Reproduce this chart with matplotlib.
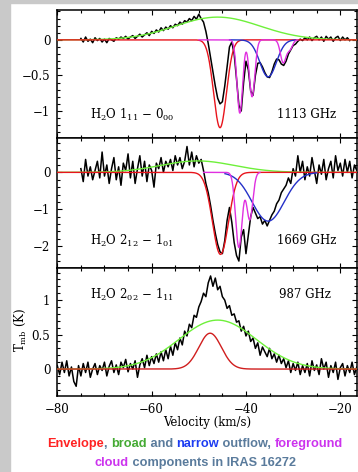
import numpy as np
import matplotlib
matplotlib.use("Agg")
import matplotlib.pyplot as plt
from matplotlib.patches import Rectangle
from matplotlib.ticker import MultipleLocator

plt.rcParams['font.family'] = 'DejaVu Serif'
plt.rcParams['mathtext.fontset'] = 'dejavuserif'

# spectra, 0.5 km/s channels starting at v0
v0_1113 = -75.0
t_1113 = [0.02, -0.03, 0.04, -0.02, 0.01, -0.04, 0.03, -0.01, 0.02, -0.03,
          0.01, -0.04, 0.02, 0.0, -0.02, 0.03, 0.01, 0.04, 0.02, 0.05,
          0.01, 0.04, 0.06, 0.02, 0.05, 0.08, 0.04, 0.07, 0.10, 0.06,
          0.12, 0.09, 0.14, 0.11, 0.17, 0.13, 0.18, 0.15, 0.20, 0.17,
          0.22, 0.20, 0.25, 0.22, 0.27, 0.25, 0.30, 0.27, 0.33, 0.29,
          0.36, 0.30, 0.25, 0.12, -0.05, -0.25, -0.45, -0.65, -0.82, -0.90,
          -0.87, -0.65, -0.38, -0.10, -0.03, -0.20, -0.55, -0.92, -1.00, -0.60,
          -0.30, -0.42, -0.72, -0.78, -0.50, -0.33, -0.32, -0.38, -0.46, -0.52,
          -0.53, -0.45, -0.34, -0.27, -0.28, -0.34, -0.36, -0.30, -0.20, -0.14,
          -0.08, -0.06, -0.02, 0.01, -0.01, 0.03, 0.0, 0.04, -0.01, 0.03,
          0.05, 0.0, 0.04, -0.02, 0.05, 0.01, 0.04, -0.02, 0.03, 0.05,
          -0.01, 0.04, 0.0, 0.03, -0.01]

v0_1669 = -75.0
t_1669 = [0.10, -0.25, 0.35, -0.10, 0.15, -0.20, 0.05, 0.30, -0.15, 0.55,
          -0.10, 0.20, -0.30, 0.10, 0.40, -0.20, 0.15, -0.35, 0.25, 0.05,
          0.50, -0.15, 0.30, -0.30, 0.10, 0.45, -0.10, 0.30, -0.25, 0.20,
          0.05, -0.40, 0.25, 0.10, 0.40, 0.0, 0.30, 0.15, 0.35, 0.05,
          0.45, 0.20, 0.40, 0.10, 0.30, 0.70, 0.20, 0.55, 0.15, 0.45,
          0.25, 0.35, 0.05, -0.30, -0.55, -0.90, -1.30, -1.65, -1.95, -2.15,
          -2.20, -1.85, -1.30, -0.95, -1.35, -1.90, -2.25, -2.40, -1.75, -1.55,
          -2.20, -1.70, -1.20, -0.95, -1.10, -1.25, -1.20, -1.40, -1.30, -1.45,
          -1.30, -1.15, -1.05, -0.85, -0.75, -0.55, -0.45, -0.35, -0.15, -0.30,
          0.10, -0.10, 0.45, 0.0, 0.30, -0.20, 0.15, -0.10, 0.40, 0.05,
          -0.30, 0.20, -0.05, 0.35, -0.20, 0.10, 0.30, -0.15, 0.45, 0.05,
          0.25, -0.10, 0.35, 0.0, 0.30, -0.15, 0.20, 0.05]

v0_987 = -80.0
t_987 = [0.05, -0.08, 0.10, -0.05, 0.12, -0.10, 0.03, -0.18, -0.25, 0.05,
         -0.10, 0.08, -0.05, 0.10, -0.12, 0.0, 0.08, -0.08, 0.05, -0.02,
         0.10, -0.10, 0.04, 0.12, -0.05, 0.06, -0.08, 0.10, 0.02, 0.14,
         -0.04, 0.08, 0.0, 0.12, -0.12, 0.06, 0.15, 0.02, 0.20, 0.05,
         0.18, 0.08, 0.22, 0.10, 0.25, 0.12, 0.28, 0.15, 0.33, 0.20,
         0.38, 0.28, 0.45, 0.35, 0.55, 0.48, 0.65, 0.60, 0.78, 0.75,
         0.90, 0.98, 1.10, 1.05, 1.25, 1.35, 1.20, 1.32, 1.15, 1.20,
         1.05, 1.00, 0.88, 0.92, 0.78, 0.80, 0.68, 0.70, 0.55, 0.62,
         0.48, 0.55, 0.40, 0.45, 0.30, 0.38, 0.20, 0.32, 0.25, 0.18,
         0.30, 0.15, 0.22, 0.10, 0.20, 0.08, 0.15, 0.02, 0.12, -0.05,
         0.08, -0.02, 0.10, -0.08, 0.05, -0.05, 0.08, -0.10, 0.12, -0.02,
         0.06, -0.08, 0.15, 0.0, 0.10, -0.12, 0.05, -0.05, 0.10, -0.15,
         0.02, 0.08, -0.10, 0.05, -0.05, 0.10, -0.08, 0.03]

# gaussian fit components: (amplitude K, centre km/s, sigma km/s)
env_1113 = [(-1.235, -45.5, 1.36)]
broad_1113 = [(0.32, -46.0, 9.0)]
narrow_1113 = [(-0.52, -35.3, 1.75)]
fg_1113 = [(-1.03, -41.3, 0.6), (-0.80, -38.7, 0.6), (-0.32, -32.1, 0.6), (-0.13, -30.7, 0.55)]

env_1669 = [(-2.22, -45.4, 1.7)]
broad_1669 = [(0.31, -50.3, 7.8)]
narrow_1669 = [(-1.32, -35.3, 3.4)]
fg_1669 = [(-2.03, -41.5, 0.7), (-1.28, -39.2, 0.65)]

env_987 = [(0.52, -47.6, 2.4)]
broad_987 = [(0.71, -46.0, 8.2)]

# velocity ranges over which the outflow / foreground fits are drawn
narrow_rng = {'1113': (-43.5, -29.5), '1669': (-44.5, -25.0)}
fg_rng = {'1113': (-50.0, -29.0), '1669': (-49.0, -37.0)}

lines = ['H$_2$O 1$_{11}$ $-$ 0$_{00}$', 'H$_2$O 2$_{12}$ $-$ 1$_{01}$', 'H$_2$O 2$_{02}$ $-$ 1$_{11}$']
freqs = ['1113 GHz', '1669 GHz', '987 GHz']

c_env = '#e8141c'
c_broad = '#6ef03a'
c_narrow = '#2430c8'
c_fg = '#e030e0'


def model(v, comps):
    out = np.zeros_like(v)
    for a, c, s in comps:
        out += a * np.exp(-0.5 * ((v - c) / s) ** 2)
    return out


fig = plt.figure(figsize=(3.58, 4.72), dpi=100)
fig.patches.append(Rectangle((0, 0), 10 / 358, 1, transform=fig.transFigure, color='#c9c9c9', zorder=-10))
fig.patches.append(Rectangle((0, 1 - 3 / 472), 1, 3 / 472, transform=fig.transFigure, color='#c9c9c9', zorder=-10))

left, width = 57.3 / 358, 299.5 / 358
ax1 = fig.add_axes([left, 1 - 138 / 472, width, 128 / 472])
ax2 = fig.add_axes([left, 1 - 267.7 / 472, width, 129.7 / 472], sharex=ax1)
ax3 = fig.add_axes([left, 1 - 395.6 / 472, width, 127.9 / 472], sharex=ax1)

vv = np.linspace(-80, -16, 1200)

panels = [
    (ax1, v0_1113, t_1113, env_1113, broad_1113, narrow_1113, fg_1113, '1113', (-1.38, 0.42), 0.5, 0.1),
    (ax2, v0_1669, t_1669, env_1669, broad_1669, narrow_1669, fg_1669, '1669', (-2.58, 0.93), 1.0, 0.2),
    (ax3, v0_987, t_987, env_987, broad_987, [], [], '987', (-0.385, 1.47), 0.5, 0.1),
]

for i, (ax, v0, t, env, broad, narrow, fg, key, ylim, maj, mnr) in enumerate(panels):
    v = v0 + 0.5 * np.arange(len(t))
    ax.plot(v, t, color='black', lw=1.1, zorder=2)
    ax.plot(vv, model(vv, broad), color=c_broad, lw=1.0, zorder=3)
    ax.plot(vv, model(vv, env), color='#d01e1e' if key == '987' else c_env, lw=1.0, zorder=4)
    if narrow:
        lo, hi = narrow_rng[key]
        m = (vv >= lo) & (vv <= hi)
        ax.plot(vv[m], model(vv[m], narrow), color=c_narrow, lw=1.0, zorder=5)
    if fg:
        lo, hi = fg_rng[key]
        m = (vv >= lo) & (vv <= hi)
        ax.plot(vv[m], model(vv[m], fg), color=c_fg, lw=1.0, zorder=6)

    ax.set_ylim(*ylim)
    ax.yaxis.set_major_locator(MultipleLocator(maj))
    ax.yaxis.set_minor_locator(MultipleLocator(mnr))
    ax.xaxis.set_major_locator(MultipleLocator(20))
    ax.xaxis.set_minor_locator(MultipleLocator(5))
    ax.tick_params(which='both', direction='in', top=True, right=True, labelsize=8.5, width=0.8)
    ax.tick_params(which='major', length=3.8, pad=5)
    ax.tick_params(which='minor', length=2.2)
    for sp in ax.spines.values():
        sp.set_linewidth(1.1)
    ax.yaxis.set_major_formatter(plt.FuncFormatter(lambda y, p: ('%g' % y).replace('-', '\u2212')))

    ty = [0.18, 0.21, 0.79][i]
    ax.text(0.109, ty, lines[i], transform=ax.transAxes, fontsize=8.5, va='center', ha='left')
    ax.text([0.931, 0.931, 0.915][i], ty, freqs[i], transform=ax.transAxes, fontsize=8.5, va='center', ha='right')

ax1.set_xlim(-80, -16.5)
ax1.tick_params(labelbottom=False)
ax2.tick_params(labelbottom=False)
ax3.xaxis.set_major_formatter(plt.FuncFormatter(lambda x, p: ('%g' % x).replace('-', '\u2212')))
ax3.set_xlabel('Velocity (km/s)', fontsize=8.5, labelpad=0)
fig.text(20 / 358, 1 - 330 / 472, 'T$_{\\rm mb}$ (K)', rotation=90, fontsize=8.5, ha='center', va='center')

# multicoloured caption
grey = '#5a7b9c'
cap1 = [('Envelope', '#ff2222'), (', ', grey), ('broad', '#44aa33'), (' and ', grey),
        ('narrow', '#1c3cf2'), (' outflow, ', grey), ('foreground', '#cc33ee')]
cap2 = [('cloud', '#cc33ee'), (' components in IRAS 16272', grey)]
cap_kw = dict(fontsize=9.2, fontweight='bold', family=['Liberation Sans Narrow', 'Liberation Sans', 'DejaVu Sans'])

fig.canvas.draw()
rend = fig.canvas.get_renderer()


def text_w(s):
    t = fig.text(0, 0, s + '|', **cap_kw)
    w = t.get_window_extent(rend).width
    t.remove()
    t = fig.text(0, 0, '|', **cap_kw)
    w -= t.get_window_extent(rend).width
    t.remove()
    return w / fig.bbox.width


for y_px, pieces in [(444, cap1), (462.7, cap2)]:
    full = ''.join(p[0] for p in pieces)
    x0 = 195 / 358 - text_w(full) / 2
    prefix = ''
    for s, c in pieces:
        fig.text(x0 + text_w(prefix), 1 - y_px / 472, s, color=c, va='center', ha='left', **cap_kw)
        prefix += s

fig.savefig('out.png', dpi=100)
